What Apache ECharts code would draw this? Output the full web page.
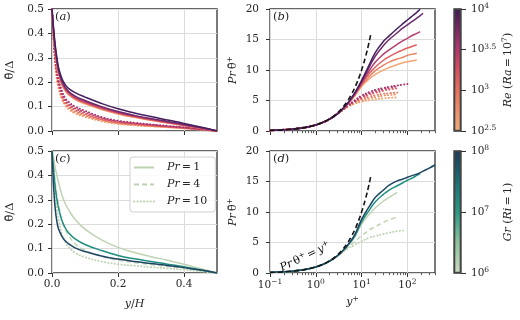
<!DOCTYPE html>
<html>
<head>
<meta charset="utf-8">
<script src="https://cdn.jsdelivr.net/npm/echarts@6/dist/echarts.min.js"></script>
<style>
  html, body { margin: 0; padding: 0; background: #fff; }
  #chart { width: 520px; height: 320px; }
</style>
</head>
<body>
<div id="chart"></div>
<script>
// wall-normal position y/H for panels (a) and (c)
var yH = [0, 0.0025, 0.005, 0.01, 0.015, 0.02, 0.03, 0.04, 0.05, 0.07, 0.1, 0.15, 0.2, 0.25, 0.3, 0.35, 0.4, 0.45, 0.5];

// (a) Pr=1 profiles, Re = 10^2.5 ... 10^4 (low -> high)
var aSolid1 = [0.5, 0.44, 0.39, 0.32, 0.27, 0.232, 0.19, 0.165, 0.149, 0.129, 0.111, 0.088, 0.07, 0.056, 0.044, 0.033, 0.023, 0.012, 0];
var aSolid2 = [0.5, 0.44, 0.39, 0.32, 0.27, 0.235, 0.192, 0.168, 0.152, 0.132, 0.114, 0.09, 0.072, 0.057, 0.045, 0.034, 0.023, 0.012, 0];
var aSolid3 = [0.5, 0.44, 0.4, 0.33, 0.28, 0.24, 0.196, 0.171, 0.155, 0.135, 0.117, 0.093, 0.074, 0.059, 0.046, 0.035, 0.024, 0.012, 0];
var aSolid4 = [0.5, 0.45, 0.4, 0.33, 0.28, 0.245, 0.2, 0.175, 0.158, 0.138, 0.12, 0.096, 0.076, 0.061, 0.048, 0.036, 0.025, 0.013, 0];
var aSolid5 = [0.5, 0.45, 0.41, 0.34, 0.29, 0.25, 0.205, 0.18, 0.163, 0.143, 0.125, 0.1, 0.08, 0.064, 0.051, 0.039, 0.027, 0.014, 0];
var aSolid6 = [0.5, 0.46, 0.42, 0.35, 0.3, 0.26, 0.215, 0.19, 0.175, 0.157, 0.139, 0.113, 0.091, 0.074, 0.059, 0.045, 0.031, 0.016, 0];
// (a) high-Pr profiles (dotted)
var aDot1 = [0.5, 0.43, 0.37, 0.27, 0.21, 0.175, 0.13, 0.105, 0.09, 0.072, 0.058, 0.04, 0.029, 0.023, 0.019, 0.015, 0.011, 0.006, 0];
var aDot2 = [0.5, 0.43, 0.37, 0.275, 0.215, 0.18, 0.135, 0.108, 0.094, 0.076, 0.062, 0.043, 0.031, 0.025, 0.02, 0.016, 0.011, 0.006, 0];
var aDot3 = [0.5, 0.435, 0.375, 0.285, 0.225, 0.187, 0.14, 0.113, 0.099, 0.081, 0.066, 0.046, 0.033, 0.027, 0.021, 0.017, 0.012, 0.006, 0];
var aDot4 = [0.5, 0.435, 0.38, 0.29, 0.23, 0.195, 0.148, 0.12, 0.105, 0.087, 0.071, 0.049, 0.036, 0.029, 0.023, 0.018, 0.013, 0.007, 0];
var aDot5 = [0.5, 0.44, 0.385, 0.295, 0.24, 0.2, 0.155, 0.127, 0.112, 0.093, 0.077, 0.053, 0.039, 0.031, 0.025, 0.019, 0.014, 0.007, 0];
var aDot6 = [0.5, 0.44, 0.39, 0.3, 0.25, 0.21, 0.165, 0.135, 0.12, 0.1, 0.083, 0.057, 0.042, 0.034, 0.027, 0.021, 0.015, 0.008, 0];

// (c) Gr = 10^6, 10^7, 10^8 at Pr=1, and Gr = 10^6 at Pr=4, Pr=10
var cSage = [0.5, 0.49, 0.47, 0.43, 0.4, 0.37, 0.32, 0.285, 0.26, 0.22, 0.18, 0.136, 0.105, 0.084, 0.067, 0.052, 0.036, 0.018, 0];
var cTeal = [0.5, 0.46, 0.42, 0.35, 0.3, 0.265, 0.215, 0.185, 0.165, 0.14, 0.117, 0.092, 0.072, 0.058, 0.047, 0.036, 0.026, 0.013, 0];
var cNavy = [0.5, 0.42, 0.35, 0.26, 0.21, 0.18, 0.15, 0.132, 0.12, 0.103, 0.088, 0.07, 0.057, 0.047, 0.039, 0.031, 0.022, 0.012, 0];
var cPr4 = [0.5, 0.47, 0.44, 0.37, 0.32, 0.28, 0.22, 0.18, 0.155, 0.12, 0.093, 0.068, 0.053, 0.043, 0.035, 0.027, 0.019, 0.01, 0];
var cPr10 = [0.5, 0.45, 0.4, 0.32, 0.26, 0.22, 0.16, 0.128, 0.108, 0.083, 0.065, 0.047, 0.036, 0.03, 0.024, 0.019, 0.013, 0.007, 0];

// wall units y+ for panels (b) and (d)
var yPlus = [0.1, 0.2, 0.3, 0.5, 0.7, 1, 1.5, 2, 3, 4, 5, 7, 10, 15, 20, 30, 40, 60, 80, 100, 130, 160, 190, 220, 300, 400];
var nearWall = [0.1, 0.2, 0.3, 0.5, 0.7, 0.99, 1.47, 1.95, 2.85];

// (b) Pr*theta+ (values from y+=4 on)
var bSolid1 = nearWall.concat([3.7, 4.45, 5.7, 7.3, 8.6, 9.3, 10.0, 10.4, 10.9, 11.2, 11.35, 11.5, 11.65]);
var bSolid2 = nearWall.concat([3.72, 4.48, 5.8, 7.5, 9.0, 9.9, 10.8, 11.3, 11.8, 12.1, 12.4, 12.6, 12.75]);
var bSolid3 = nearWall.concat([3.73, 4.5, 5.9, 7.7, 9.5, 10.5, 11.6, 12.2, 12.9, 13.3, 13.6, 13.9, 14.1]);
var bSolid4 = nearWall.concat([3.74, 4.55, 6.0, 7.9, 10.0, 11.3, 12.6, 13.3, 14.2, 14.8, 15.2, 15.7, 16.0, 16.3]);
var bSolid5 = nearWall.concat([3.75, 4.58, 6.1, 8.1, 10.6, 12.3, 14.0, 15.0, 16.1, 16.9, 17.4, 18.0, 18.5, 18.9, 19.3]);
var bSolid6 = nearWall.concat([3.75, 4.6, 6.2, 8.3, 11.0, 12.9, 14.7, 15.6, 16.8, 17.6, 18.2, 18.9, 19.45, 19.95]);
var bDot1 = nearWall.concat([3.48, 3.95, 4.45, 4.8, 5.05, 5.2, 5.35, 5.45, 5.5]);
var bDot2 = nearWall.concat([3.5, 4.0, 4.55, 5.0, 5.35, 5.55, 5.8, 5.9, 6.0]);
var bDot3 = nearWall.concat([3.54, 4.05, 4.7, 5.2, 5.6, 5.85, 6.1, 6.2, 6.3]);
var bDot4 = nearWall.concat([3.56, 4.1, 4.8, 5.4, 5.95, 6.25, 6.6, 6.8, 7.0]);
var bDot5 = nearWall.concat([3.58, 4.15, 4.9, 5.6, 6.2, 6.5, 6.85, 7.05, 7.3]);
var bDot6 = nearWall.concat([3.6, 4.2, 5.0, 5.8, 6.4, 6.75, 7.05, 7.25, 7.45, 7.6, 7.7]);

// (d)
var dNavy = nearWall.concat([3.75, 4.6, 6.2, 8.8, 11.0, 12.4, 13.6, 14.4, 15.1, 15.4, 15.7, 16.0, 16.2, 16.45, 16.7, 17.2, 17.7]);
var dTeal = nearWall.concat([3.74, 4.55, 6.0, 8.4, 10.4, 11.7, 12.9, 13.6, 14.3, 14.8, 15.2, 15.6, 16.0, 16.3]);
var dSage = nearWall.concat([3.72, 4.5, 5.8, 8.0, 9.7, 10.7, 11.8, 12.4, 13.2]);
var dPr4 = nearWall.concat([3.6, 4.2, 5.1, 6.1, 7.1, 7.6, 8.3, 8.7, 9.15]);
var dPr10 = nearWall.concat([3.5, 4.0, 4.6, 5.2, 5.8, 6.05, 6.4, 6.6, 6.85, 6.95]);

// conduction law Pr theta+ = y+
var lawX = [0.1, 0.3, 1, 2, 3, 4, 5, 6, 7, 8, 9, 10, 11, 12, 13, 14, 15, 16];
var lawY = [0.1, 0.3, 1, 2, 3, 4, 5, 6, 7, 8, 9, 10, 11, 12, 13, 14, 15, 16];

// colorbar ranges (log10)
var reRange = [2.5, 4];
var grRange = [6, 8];
var logMajor = [0.1, 1, 10, 100];
var logMinor = [0.2, 0.3, 0.4, 0.5, 0.6, 0.7, 0.8, 0.9, 2, 3, 4, 5, 6, 7, 8, 9, 20, 30, 40, 50, 60, 70, 80, 90, 200, 300, 400];

var reColors = ['#f2a673', '#ea8062', '#df5d5f', '#b83c6d', '#6f2a6e', '#45205e'];
var dotColors = ['#f2a673', '#ef9468', '#e97a60', '#dc5a60', '#c4406a', '#a8356f'];
var NAVY = '#1e4663', TEAL = '#1f8f80', SAGE = '#bfd3b3';

var FONT = 'DejaVu Serif';
var INK = '#262626';
var rich = {
  b: { fontFamily: FONT, fontSize: 10.5, color: INK, lineHeight: 14 },
  s: { fontFamily: FONT, fontSize: 7.5, color: INK, lineHeight: 9, verticalAlign: 'top' },
  i: { fontFamily: FONT, fontSize: 11, color: INK, fontStyle: 'italic', lineHeight: 14 },
  n: { fontFamily: FONT, fontSize: 11, color: INK, lineHeight: 14 }
};

function pairs(xs, ys) {
  return ys.map(function (v, k) { return [xs[k], v]; });
}
function curve(xs, ys, panel, color, kind, name) {
  var ls = { color: color, width: 1.5 };
  if (kind === 'dot') { ls.type = [0.3, 3]; ls.cap = 'round'; ls.width = 1.9; }
  if (kind === 'dash') { ls.type = [5, 3]; }
  if (kind === 'law') { ls.type = [5, 3]; ls.width = 1.6; }
  return {
    type: 'line', name: name, xAxisIndex: panel, yAxisIndex: panel,
    data: pairs(xs, ys), symbol: 'none', smooth: 0.45,
    lineStyle: ls, itemStyle: { color: color }, z: kind === 'law' ? 5 : 2,
    silent: true
  };
}
function pow10(v) {
  var t = String(Math.round(v * 10) / 10).replace('-', '\u2212');
  return '{b|10}{s|' + t + '}';
}

var gridBox = { show: true, borderColor: '#333', borderWidth: 1.3, backgroundColor: '#fff' };
function grid(l, t, w) { return Object.assign({ left: l, top: t, width: w || 165, height: 122 }, gridBox); }

var splitLine = { show: true, lineStyle: { color: '#dcdcdc', width: 1 } };
var tickLbl = { fontFamily: FONT, fontSize: 10.5, color: INK };
var tick = { show: true, length: 4, lineStyle: { color: '#333', width: 1 } };

function linX(grid, labels) {
  return {
    type: 'value', gridIndex: grid, min: 0, max: 0.5, interval: 0.2,
    axisLine: { show: false }, splitLine: splitLine,
    axisTick: Object.assign({ customValues: [0, 0.2, 0.4] }, tick),
    axisLabel: { show: labels, customValues: [0, 0.2, 0.4], margin: 6, formatter: function (v) { return v.toFixed(1); }, textStyle: tickLbl },
    name: labels ? '{i|y}{n|/}{i|H}' : '', nameLocation: 'middle', nameGap: 24,
    nameTextStyle: { rich: rich }
  };
}
function logX(grid, labels) {
  return {
    type: 'log', logBase: 10, gridIndex: grid, min: 0.1, max: 400,
    axisLine: { show: false }, splitLine: splitLine,
    axisTick: Object.assign({ customValues: logMajor }, tick),
    axisLabel: { show: labels, customValues: logMajor, margin: 5, formatter: function (v) { return pow10(Math.log10(v)); }, rich: rich },
    name: labels ? '{i|y}{s|+}' : '', nameLocation: 'middle', nameGap: 22,
    nameTextStyle: { rich: rich }
  };
}
function minorX(grid) {
  return {
    type: 'log', logBase: 10, gridIndex: grid, min: 0.1, max: 400, position: 'bottom',
    axisLine: { show: false }, splitLine: { show: false }, axisLabel: { show: false },
    axisTick: { show: true, length: 2.2, customValues: logMinor, lineStyle: { color: '#333', width: 0.8 } }
  };
}
function thetaY(grid) {
  return {
    type: 'value', gridIndex: grid, min: 0, max: 0.5, interval: 0.1,
    axisLine: { show: false }, splitLine: splitLine, axisTick: tick,
    axisLabel: { margin: 8, formatter: function (v) { return v.toFixed(1); }, textStyle: tickLbl },
    name: '\u03b8\u0304/\u0394', nameLocation: 'middle', nameRotate: 90, nameGap: 36,
    nameTextStyle: { fontFamily: FONT, fontSize: 11.5, color: INK }
  };
}
function plusY(grid) {
  return {
    type: 'value', gridIndex: grid, min: 0, max: 20, interval: 5,
    axisLine: { show: false }, splitLine: splitLine, axisTick: tick,
    axisLabel: { margin: 11, textStyle: tickLbl },
    name: '{i|Pr}{n|\u2009\u03b8\u0304}{s|+}', nameLocation: 'middle', nameRotate: 90, nameGap: 30,
    nameTextStyle: { rich: rich }
  };
}
function barY(grid, range, name) {
  return {
    type: 'value', gridIndex: grid, position: 'right', min: range[0], max: range[1],
    interval: range[1] - range[0] > 1.6 ? 1 : 0.5,
    axisLine: { show: false }, splitLine: { show: false },
    axisTick: { show: true, length: 5, lineStyle: { color: '#333', width: 1 } },
    axisLabel: { margin: 10, formatter: pow10, rich: rich },
    name: name, nameLocation: 'middle', nameRotate: 90, nameGap: 40,
    nameTextStyle: { rich: rich }
  };
}

var series = [];
[aDot1, aDot2, aDot3, aDot4, aDot5, aDot6].forEach(function (d, k) { series.push(curve(yH, d, 0, dotColors[k], 'dot')); });
[aSolid1, aSolid2, aSolid3, aSolid4, aSolid5, aSolid6].forEach(function (d, k) { series.push(curve(yH, d, 0, reColors[k], 'solid')); });
[bDot1, bDot2, bDot3, bDot4, bDot5, bDot6].forEach(function (d, k) { series.push(curve(yPlus, d, 1, dotColors[k], 'dot')); });
[bSolid1, bSolid2, bSolid3, bSolid4, bSolid5, bSolid6].forEach(function (d, k) { series.push(curve(yPlus, d, 1, reColors[k], 'solid')); });
series.push(curve(lawX, lawY, 1, '#151515', 'law'));

series.push(curve(yH, cPr10, 2, SAGE, 'dot', 'Pr=10'));
series.push(curve(yH, cPr4, 2, SAGE, 'dash', 'Pr=4'));
series.push(curve(yH, cSage, 2, SAGE, 'solid', 'Pr=1'));
series.push(curve(yH, cTeal, 2, TEAL, 'solid'));
series.push(curve(yH, cNavy, 2, NAVY, 'solid'));

series.push(curve(yPlus, dPr10, 3, SAGE, 'dot'));
series.push(curve(yPlus, dPr4, 3, SAGE, 'dash'));
series.push(curve(yPlus, dSage, 3, SAGE, 'solid'));
series.push(curve(yPlus, dTeal, 3, TEAL, 'solid'));
series.push(curve(yPlus, dNavy, 3, NAVY, 'solid'));
series.push(curve(lawX, lawY, 3, '#151515', 'law'));

// colorbars: transparent base + gradient segment spanning the range
function colorbar(xi, yi, range, stops) {
  return [
    { type: 'bar', xAxisIndex: xi, yAxisIndex: yi, stack: 'cb' + xi, data: [range[0]], barWidth: '100%', itemStyle: { color: 'transparent' }, silent: true },
    { type: 'bar', xAxisIndex: xi, yAxisIndex: yi, stack: 'cb' + xi, data: [range[1] - range[0]], barWidth: '100%', silent: true,
      itemStyle: { borderColor: '#444', borderWidth: 1.3,
        color: { type: 'linear', x: 0, y: 1, x2: 0, y2: 0, colorStops: stops } } }
  ];
}
var flare = [
  { offset: 0, color: '#efae7a' }, { offset: 0.3, color: '#e7785f' }, { offset: 0.5, color: '#d5505f' },
  { offset: 0.7, color: '#a8346d' }, { offset: 1, color: '#3d1c54' }
];
var crest = [
  { offset: 0, color: '#cbdcbf' }, { offset: 0.25, color: '#8dc29a' }, { offset: 0.5, color: '#2a9a86' },
  { offset: 0.75, color: '#1b6f74' }, { offset: 1, color: '#1d3b56' }
];
series = series.concat(colorbar(6, 4, reRange, flare), colorbar(7, 5, grRange, crest));

function panelLabel(letter, l, t) {
  return {
    type: 'text', left: l, top: t, z: 10,
    style: { text: '{p|(}{i|' + letter + '}{p|)}', rich: { p: { fontFamily: FONT, fontSize: 11.5, fill: INK }, i: { fontFamily: FONT, fontSize: 11.5, fontStyle: 'italic', fill: INK } } }
  };
}

var chart = echarts.init(document.getElementById('chart'), null, { renderer: 'canvas' });
chart.setOption({
  animation: false,
  backgroundColor: '#fff',
  grid: [grid(52, 9), grid(270, 9), grid(52, 151), grid(270, 151), grid(454, 9, 7), grid(454, 151, 7)],
  xAxis: [
    linX(0, false), logX(1, false), linX(2, true), logX(3, true),
    minorX(1), minorX(3),
    { type: 'category', gridIndex: 4, data: ['Re'], show: false },
    { type: 'category', gridIndex: 5, data: ['Gr'], show: false }
  ],
  yAxis: [
    thetaY(0), plusY(1), thetaY(2), plusY(3),
    barY(4, reRange, '{i|Re}{n| (}{i|Ra}{n|\u2009=\u200910}{s|7}{n|)}'),
    barY(5, grRange, '{i|Gr}{n| (}{i|Ri}{n|\u2009=\u20091)}')
  ],
  legend: {
    data: ['Pr=1', 'Pr=4', 'Pr=10'], orient: 'vertical', left: 130, top: 157,
    itemWidth: 20, itemHeight: 10, itemGap: 6, selectedMode: false,
    itemStyle: { opacity: 0, color: 'rgba(0,0,0,0)', borderWidth: 0 },
    backgroundColor: 'rgba(255,255,255,0.85)', borderColor: '#d0d0d0', borderWidth: 1, borderRadius: 3,
    padding: [5, 8, 5, 3],
    formatter: function (n) { return '{i|Pr}{n|\u2009=\u2009' + n.split('=')[1] + '}'; },
    textStyle: { padding: [0, 0, 0, 8], rich: rich }
  },
  graphic: [
    panelLabel('a', 55, 11), panelLabel('b', 273, 11), panelLabel('c', 55, 153), panelLabel('d', 273, 153),
    { type: 'text', x: 305, y: 257, rotation: 0.45, z: 10,
      style: { text: '{i|Pr}{n|\u2009\u03b8}{s|+}{n|\u2009=\u2009}{i|y}{s|+}', align: 'center', verticalAlign: 'middle', rich: rich } }
  ],
  series: series
});
</script>
</body>
</html>
